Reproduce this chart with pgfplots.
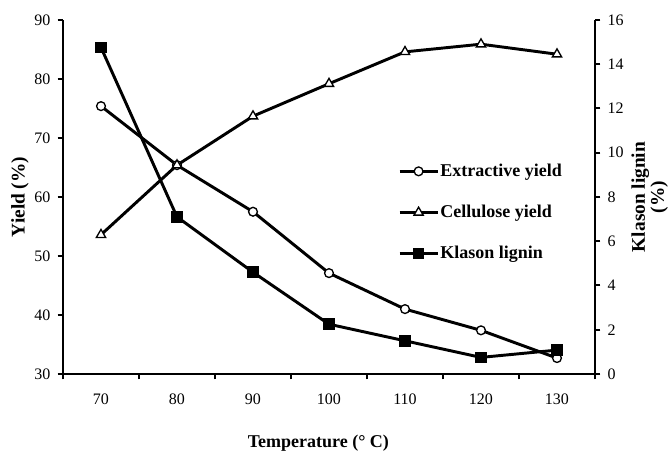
\documentclass[border=0pt]{standalone}
\usepackage{fontspec}
\setmainfont{Liberation Serif}
\usepackage{pgfplots}
\pgfplotsset{compat=1.18}
\begin{document}
\begin{tikzpicture}
\pgfplotsset{
  common/.style={
    scale only axis, width=399pt, height=265.5pt,
    xmin=65, xmax=135,
    tick align=outside,
    axis line style={line width=2pt},
    every tick/.style={black, line width=1.5pt},
    major tick length=4pt,
    tick label style={font=\fontsize{12}{14}\selectfont},
    /pgf/number format/assume math mode=true,
    every axis y label/.style={rotate=90, anchor=center, font=\bfseries\fontsize{14.5}{13}\selectfont, align=center},
  },
  extstyle/.style={black, line width=2.2pt, mark=*, mark size=3.3pt, mark options={solid, fill=white, line width=1pt}},
  cellstyle/.style={black, line width=2.2pt, mark=triangle*, mark size=4pt, mark options={solid, fill=white, line width=1pt}},
  klastyle/.style={black, line width=2.2pt, mark=square*, mark size=3.8pt, mark options={solid, fill=black, line width=1pt}},
}
\path[use as bounding box] (-47.25pt,-58.5pt) rectangle (453.75pt,280.5pt);
\begin{axis}[common,
  axis x line*=bottom, axis y line*=left,
  ymin=30, ymax=90, ytick={30,40,...,90},
  yticklabel style={xshift=-2pt},
  xtick={65,75,...,135}, xticklabels={},
  extra x ticks={70,80,...,130},
  extra x tick style={major tick length=0pt, tick label style={yshift=-11pt}},
  xlabel={Temperature (° C)},
  xlabel style={at={(axis description cs:0.48,-0.195)}, anchor=center, font=\bfseries\fontsize{13.5}{15}\selectfont},
  ylabel={Yield (\%)},
  every axis y label/.append style={at={(axis description cs:-0.081,0.5)}},
]
\addplot[extstyle] coordinates {(70,75.4)(80,65.4)(90,57.5)(100,47.1)(110,41.0)(120,37.4)(130,32.7)};
\addplot[cellstyle] coordinates {(70,53.6)(80,65.4)(90,73.7)(100,79.2)(110,84.6)(120,85.9)(130,84.2)};
\end{axis}
\begin{axis}[common,
  axis x line=none, axis y line*=right,
  ymin=0, ymax=16, ytick={0,2,...,16},
  yticklabel style={xshift=2pt},
  ylabel={Klason lignin\\(\%)},
  every axis y label/.append style={at={(axis description cs:1.103,0.5)}},
  legend style={draw=none, fill=none, at={(axis description cs:0.622,0.605)}, anchor=north west,
    font=\bfseries\fontsize{13.5}{15}\selectfont, row sep=18pt, nodes={inner sep=1pt}},
  legend cell align=left,
  legend image code/.code={\draw[mark repeat=2,mark phase=2,#1] plot coordinates {(0cm,0cm) (0.5cm,0cm) (1cm,0cm)};},
]
\addlegendimage{extstyle}
\addlegendentry{Extractive yield}
\addlegendimage{cellstyle}
\addlegendentry{Cellulose yield}
\addplot[klastyle] coordinates {(70,14.76)(80,7.1)(90,4.6)(100,2.25)(110,1.5)(120,0.75)(130,1.08)};
\addlegendentry{Klason lignin}
\end{axis}
\end{tikzpicture}
\end{document}
